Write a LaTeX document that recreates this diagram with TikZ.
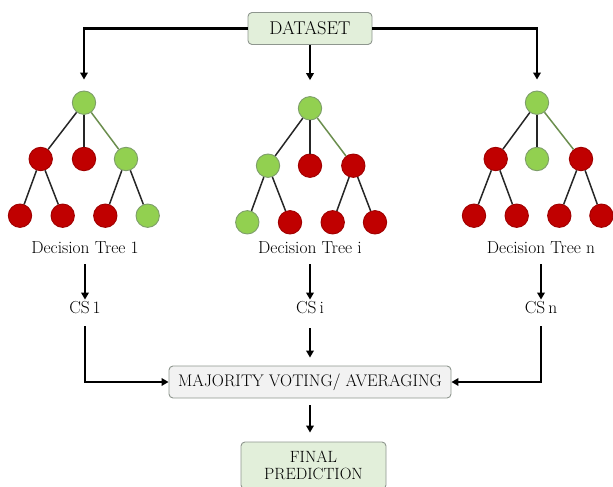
\documentclass[tikz,border=0pt]{standalone}
\usetikzlibrary{arrows.meta,calc}

\definecolor{leafgreen}{HTML}{92D050}
\definecolor{leafgreenrim}{HTML}{7E9E6A}
\definecolor{nodered}{HTML}{C00000}
\definecolor{noderedrim}{HTML}{A00000}
\definecolor{greenedge}{HTML}{6B8E4E}
\definecolor{boxgreen}{HTML}{E2EFDA}
\definecolor{boxgray}{HTML}{F2F2F2}
\definecolor{boxrim}{HTML}{8E968E}

\tikzset{
  gnode/.style={circle, fill=leafgreen, draw=leafgreenrim, line width=0.9pt,
    minimum size=23.4pt, inner sep=0pt},
  rnode/.style={circle, fill=nodered, draw=noderedrim, line width=0.9pt,
    minimum size=23.4pt, inner sep=0pt},
  edge/.style={line width=1.5pt, black!85},
  gedge/.style={line width=1.5pt, greenedge},
  arr/.style={line width=2.4pt, -{Triangle[length=7pt,width=7.5pt]}},
  procbox/.style={rounded corners=4pt, draw=boxrim, line width=0.9pt,
    font=\fontsize{16.8}{18}\selectfont, inner sep=0pt, align=center},
  lbl/.style={font=\fontsize{17.4}{19}\selectfont, inner sep=0pt}
}

\begin{document}
\begin{tikzpicture}[x=1pt,y=-1pt]
\clip (0,0) rectangle (613,487);

% top and bottom boxes
\node[procbox, fill=boxgreen, minimum width=124pt, minimum height=32pt,
      font=\fontsize{18.5}{20}\selectfont] (ds) at (310,28.5) {DATASET};
\node[procbox, fill=boxgray, minimum width=282pt, minimum height=32pt] (mv) at (310,382) {MAJORITY VOTING/ AVERAGING};
\node[procbox, fill=boxgreen, minimum width=145pt, minimum height=47pt,
      font=\fontsize{16.3}{17}\selectfont] (fp) at (313.5,465.5) {FINAL\\PREDICTION};

% tree 1
\node[gnode] (t1r) at (84,102.7) {};
\node[rnode] (t1a) at (40.7,159) {};
\node[rnode] (t1b) at (84,159) {};
\node[gnode] (t1c) at (126,159) {};
\node[rnode] (t1d) at (20,215.7) {};
\node[rnode] (t1e) at (62.7,215.7) {};
\node[rnode] (t1f) at (105.3,215.7) {};
\node[gnode] (t1g) at (147.7,215.7) {};
\draw[edge] (t1r) -- (t1a);
\draw[edge] (t1r) -- (t1b);
\draw[gedge] (t1r) -- (t1c);
\draw[edge] (t1a) -- (t1d);
\draw[edge] (t1a) -- (t1e);
\draw[edge] (t1c) -- (t1f);
\draw[edge] (t1c) -- (t1g);

% tree i
\node[gnode] (tir) at (310,108.3) {};
\node[gnode] (tia) at (268,165.7) {};
\node[rnode] (tib) at (310,165.7) {};
\node[rnode] (tic) at (353.3,165.7) {};
\node[gnode] (tid) at (247.3,222.3) {};
\node[rnode] (tie) at (290,222.3) {};
\node[rnode] (tif) at (332.7,222.3) {};
\node[rnode] (tig) at (375,222.3) {};
\draw[edge] (tir) -- (tia);
\draw[edge] (tir) -- (tib);
\draw[gedge] (tir) -- (tic);
\draw[edge] (tia) -- (tid);
\draw[edge] (tia) -- (tie);
\draw[edge] (tic) -- (tif);
\draw[edge] (tic) -- (tig);

% tree n
\node[gnode] (tnr) at (537,102.7) {};
\node[rnode] (tna) at (495.7,159) {};
\node[gnode] (tnb) at (537,159) {};
\node[rnode] (tnc) at (581,159) {};
\node[rnode] (tnd) at (474,215.7) {};
\node[rnode] (tne) at (516.7,215.7) {};
\node[rnode] (tnf) at (559.3,215.7) {};
\node[rnode] (tng) at (601.4,215.7) {};
\draw[edge] (tnr) -- (tna);
\draw[edge] (tnr) -- (tnb);
\draw[gedge] (tnr) -- (tnc);
\draw[edge] (tna) -- (tnd);
\draw[edge] (tna) -- (tne);
\draw[edge] (tnc) -- (tnf);
\draw[edge] (tnc) -- (tng);

% dataset feeding the trees
\draw[arr, shorten >=11pt] (ds.west) -| (t1r.north);
\draw[arr, shorten >=16pt] (ds.south) -- (tir.north);
\draw[arr, shorten >=11pt] (ds.east) -| (tnr.north);

% tree labels and classifier outputs
\node[lbl] (d1) at (85,248) {Decision Tree 1};
\node[lbl] (di) at (310,248) {Decision Tree i};
\node[lbl] (dn) at (541,248) {Decision Tree n};
\node[lbl] (c1) at (85,308) {CS\,1};
\node[lbl] (ci) at (310,308) {CS\,i};
\node[lbl] (cn) at (541,308) {CS\,n};

\draw[arr, shorten <=10pt, shorten >=2pt] (d1.south) -- (c1.north);
\draw[arr, shorten <=10pt, shorten >=2pt] (di.south) -- (ci.north);
\draw[arr, shorten <=10pt, shorten >=2pt] (dn.south) -- (cn.north);

% aggregation
\draw[arr, shorten <=12pt] (c1.south) |- (mv.west);
\draw[arr, shorten <=14pt, shorten >=8pt] (ci.south) -- (mv.north);
\draw[arr, shorten <=12pt] (cn.south) |- (mv.east);
\draw[arr, shorten <=7pt, shorten >=9pt] (mv.south) -- (mv.south |- fp.north);
\end{tikzpicture}
\end{document}
